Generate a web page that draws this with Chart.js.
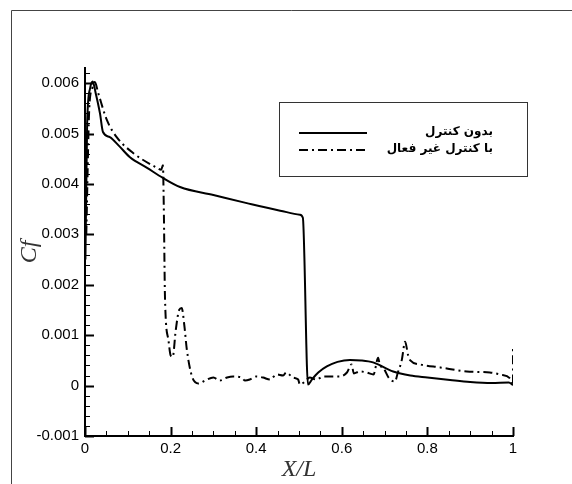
<!DOCTYPE html>
<html>
<head>
<meta charset="utf-8">
<script src="https://cdn.jsdelivr.net/npm/chart.js@4"></script>
<style>
  body { margin: 0; background: #fff; }
  canvas { display: block; }
</style>
</head>
<body>
<canvas id="cfChart" width="572" height="484"></canvas>
<script>
// series labels (legend)
var seriesNames = ['بدون کنترل', 'با کنترل غیر فعال'];

// without control (solid)
var solidX = [0.001, 0.005, 0.012, 0.018, 0.025, 0.035, 0.042, 0.058, 0.080, 0.105,
              0.145, 0.182, 0.222, 0.300, 0.378, 0.456, 0.502, 0.509, 0.521, 0.530,
              0.545, 0.565, 0.590, 0.619, 0.645, 0.673, 0.720, 0.760, 0.800, 0.853,
              0.900, 0.950, 0.990, 1.000];
var solidY = [0.0025, 0.0052, 0.0059, 0.00603, 0.0058, 0.0054, 0.00503, 0.00493, 0.00475, 0.00453,
              0.00432, 0.00412, 0.00394, 0.00378, 0.00362, 0.00347, 0.00339, 0.00333, 0.00002, 0.00012,
              0.00026, 0.00038, 0.00047, 0.00051, 0.0005, 0.00046, 0.00028, 0.0002, 0.00016, 0.00011,
              0.00007, 0.00005, 0.00006, 0.00001];

// passive control (dash-dot)
var dashX = [0.003, 0.010, 0.017, 0.023, 0.031, 0.051, 0.074, 0.113, 0.168, 0.178,
             0.182, 0.184, 0.187, 0.195, 0.200, 0.205, 0.212, 0.220, 0.226, 0.232,
             0.238, 0.250, 0.265, 0.280, 0.300, 0.315, 0.332, 0.346, 0.366, 0.374,
             0.385, 0.400, 0.416, 0.432, 0.448, 0.463, 0.470, 0.486, 0.498, 0.502,
             0.514, 0.525, 0.540, 0.557, 0.576, 0.596, 0.612, 0.623, 0.628, 0.642,
             0.658, 0.674, 0.685, 0.689, 0.696, 0.710, 0.724, 0.731, 0.740, 0.748,
             0.755, 0.760, 0.783, 0.830, 0.892, 0.946, 0.970, 0.997, 1.000, 1.000];
var dashY = [0.0030, 0.0055, 0.0059, 0.00602, 0.0058, 0.00527, 0.00493, 0.00461, 0.00432, 0.00428,
             0.00437, 0.0036, 0.0017, 0.0009, 0.0006, 0.00057, 0.0011, 0.0015, 0.00154, 0.0012,
             0.00071, 0.00018, 0.00004, 0.0001, 0.00016, 0.0001, 0.00016, 0.00018, 0.00016, 0.0001,
             0.00012, 0.00018, 0.00016, 0.00012, 0.00022, 0.0002, 0.00026, 0.00016, 0.00012, 0.00002,
             0.00008, 0.00016, 0.00012, 0.00018, 0.00018, 0.00018, 0.00026, 0.00042, 0.00024, 0.00028,
             0.00026, 0.00022, 0.00055, 0.0004, 0.00036, 0.00015, 0.00008, 0.00026, 0.0005, 0.00087,
             0.0006, 0.0005, 0.00042, 0.00036, 0.00028, 0.00026, 0.00022, 0.0001, 0.0, 0.0008];

// tick labels
var xTicks = [0, 0.2, 0.4, 0.6, 0.8, 1];
var yTicks = [-0.001, 0, 0.001, 0.002, 0.003, 0.004, 0.005, 0.006];

function pts(xs, ys) {
    return xs.map(function (x, i) { return { x: x, y: ys[i] }; });
}

// inward major/minor ticks, legend box, outer frame
var tecplotBits = {
    id: 'tecplotBits',
    afterDraw: function (chart) {
        var ctx = chart.ctx;
        var xs = chart.scales.x, ys = chart.scales.y;
        var a = chart.chartArea;
        ctx.save();
        ctx.strokeStyle = '#000';
        for (var i = -5; i <= 31; i++) {
            var py = Math.round(ys.getPixelForValue(i * 0.0002)) + 0.5;
            var major = (i % 5 === 0);
            ctx.lineWidth = major ? 2 : 1;
            ctx.beginPath();
            ctx.moveTo(a.left, py);
            ctx.lineTo(a.left + (major ? 9 : 5), py);
            ctx.stroke();
        }
        for (var j = 0; j <= 20; j++) {
            var px = Math.round(xs.getPixelForValue(j * 0.05)) + 0.5;
            var maj = (j % 4 === 0);
            ctx.lineWidth = maj ? 2 : 1;
            ctx.beginPath();
            ctx.moveTo(px, a.bottom);
            ctx.lineTo(px, a.bottom - (maj ? 9 : 5));
            ctx.stroke();
        }

        // outer frame (top + left edges)
        ctx.strokeStyle = '#444';
        ctx.lineWidth = 1;
        ctx.beginPath();
        ctx.moveTo(11.5, 484);
        ctx.lineTo(11.5, 10.5);
        ctx.lineTo(572, 10.5);
        ctx.stroke();

        // legend
        ctx.strokeStyle = '#333';
        ctx.strokeRect(279.5, 102.5, 248, 74);
        var rows = [133, 150];
        chart.data.datasets.forEach(function (ds, k) {
            ctx.strokeStyle = '#000';
            ctx.lineWidth = 2;
            ctx.setLineDash(ds.borderDash || []);
            ctx.beginPath();
            ctx.moveTo(299, rows[k]);
            ctx.lineTo(367, rows[k]);
            ctx.stroke();
            ctx.setLineDash([]);
            ctx.fillStyle = '#000';
            ctx.font = 'bold 12px "DejaVu Sans"';
            ctx.textAlign = 'right';
            ctx.textBaseline = 'middle';
            ctx.fillText(ds.label, 493, rows[k] - 1);
        });
        ctx.restore();
    }
};

var ctx = document.getElementById('cfChart').getContext('2d');
var myChart = new Chart(ctx, {
    type: 'line',
    data: {
        datasets: [{
            label: seriesNames[0],
            data: pts(solidX, solidY),
            borderColor: '#000',
            borderWidth: 2,
            pointRadius: 0,
            cubicInterpolationMode: 'monotone',
            fill: false
        }, {
            label: seriesNames[1],
            data: pts(dashX, dashY),
            borderColor: '#000',
            borderWidth: 2,
            borderDash: [9, 4, 2, 4],
            pointRadius: 0,
            cubicInterpolationMode: 'monotone',
            fill: false
        }]
    },
    plugins: [tecplotBits],
    options: {
        responsive: false,
        animation: false,
        layout: { padding: { top: 68, right: 59, left: 0, bottom: 0 } },
        plugins: {
            legend: { display: false },
            tooltip: { enabled: false }
        },
        scales: {
            x: {
                type: 'linear',
                min: 0,
                max: 1,
                afterBuildTicks: function (s) { s.ticks = xTicks.map(function (v) { return { value: v }; }); },
                afterFit: function (s) { s.height = 48; },
                grid: { display: false, drawTicks: false },
                border: { display: true, color: '#000', width: 2 },
                ticks: {
                    color: '#000',
                    padding: 4,
                    maxRotation: 0,
                    font: { family: '"Liberation Sans", Arial', size: 15 },
                    callback: function (v) { return String(+v.toFixed(1)); }
                },
                title: {
                    display: true,
                    text: 'X/L',
                    color: '#333',
                    font: { family: '"Liberation Serif", "Times New Roman"', size: 24, style: 'italic' },
                    padding: { top: 1, bottom: 0 }
                }
            },
            y: {
                type: 'linear',
                min: -0.001,
                max: 0.0063,
                afterBuildTicks: function (s) { s.ticks = yTicks.map(function (v) { return { value: v }; }); },
                afterFit: function (s) { s.width = 85; },
                grid: { display: false, drawTicks: false },
                border: { display: true, color: '#000', width: 2 },
                ticks: {
                    color: '#000',
                    padding: 6,
                    font: { family: '"Liberation Sans", Arial', size: 15 },
                    callback: function (v) { return String(+v.toFixed(3)); }
                },
                title: {
                    display: true,
                    text: 'Cf',
                    color: '#333',
                    font: { family: '"Liberation Serif", "Times New Roman"', size: 24, style: 'italic' },
                    padding: { top: 15, bottom: 0 }
                }
            }
        }
    }
});
</script>
</body>
</html>
